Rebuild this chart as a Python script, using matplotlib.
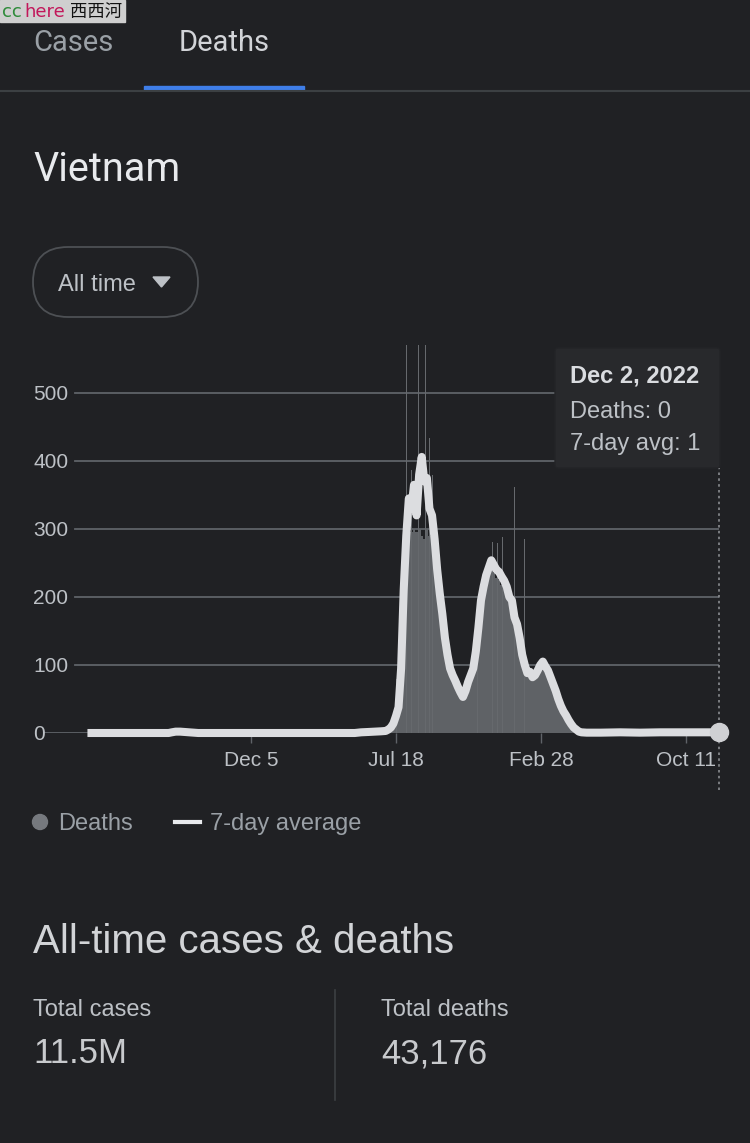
import numpy as np
import pandas as pd
import matplotlib
matplotlib.use('Agg')
import matplotlib.pyplot as plt
import matplotlib.dates as mdates
from matplotlib.patches import FancyBboxPatch, Rectangle, Polygon, Circle

# ---- data ----
# wave period, one value every 4 days from 2021-07-02
wave_start = '2021-07-02'
wave_avg = [3, 5, 8, 14, 25, 38, 95, 210, 290, 345,
            330, 365, 320, 380, 406, 370, 375, 330, 320, 285,
            240, 205, 175, 140, 115, 95, 85, 77, 68, 60,
            53, 62, 75, 85, 95, 120, 155, 195, 215, 232,
            243, 254, 247, 240, 237, 230, 224, 215, 200, 195,
            170, 160, 140, 115, 100, 88, 90, 82, 85, 92,
            100, 105, 98, 92, 82, 72, 62, 50, 40, 32,
            26, 19, 13, 8, 5, 2, 1]
wave_deaths = [3, 5, 8, 12, 20, 30, 70, 190, 270, 295,
               295, 300, 295, 300, 290, 285, 300, 290, 280, 260,
               225, 190, 160, 130, 105, 88, 80, 72, 63, 55,
               50, 58, 70, 80, 90, 110, 145, 180, 205, 222,
               232, 240, 236, 228, 225, 218, 212, 205, 192, 180,
               160, 150, 128, 105, 92, 82, 84, 78, 80, 86,
               94, 98, 92, 86, 76, 66, 56, 45, 36, 28,
               22, 16, 11, 7, 4, 2, 1]

# single days with reported backlogs
spike_dates = ['2021-07-19', '2021-07-29', '2021-08-03', '2021-08-11', '2021-08-22',
               '2021-09-02', '2021-09-08', '2021-09-13', '2021-11-22', '2021-12-15',
               '2021-12-23', '2021-12-31', '2022-01-11', '2022-01-18', '2022-02-03']
spike_deaths = [80, 391, 760, 387, 810, 780, 434, 380, 188, 281, 279, 288, 254, 362, 285]

# quiet periods of the 7-day average
early_dates = ['2020-03-26', '2020-07-30', '2020-08-04', '2020-08-10', '2020-08-17',
               '2020-08-24', '2020-08-31', '2020-09-07', '2020-09-14', '2021-05-15',
               '2021-05-25', '2021-06-05', '2021-06-15', '2021-06-25']
early_avg = [0, 0, 1, 2, 2, 1.5, 1, 0.5, 0, 0, 1, 1.5, 2, 2.5]
late_dates = ['2022-05-10', '2022-06-01', '2022-07-01', '2022-08-01',
              '2022-09-01', '2022-10-01', '2022-11-01', '2022-12-02']
late_avg = [0.5, 0.5, 1, 0.5, 1, 1, 1, 1]

tick_dates = ['2020-12-05', '2021-07-18', '2022-02-28', '2022-10-11']
tick_labels = ['Dec 5', 'Jul 18', 'Feb 28', 'Oct 11']
y_ticks = [0, 100, 200, 300, 400, 500]

BG = '#202124'
GRID = '#5f6368'
LINE = '#dcdde0'
AREA = '#5f6266'
W, H = 750, 1143

wave_dates = pd.date_range(wave_start, periods=len(wave_avg), freq='4D')
line_dates = pd.to_datetime(early_dates + list(wave_dates.strftime('%Y-%m-%d')) + late_dates)
line_vals = early_avg + wave_avg + late_avg

fig = plt.figure(figsize=(W / 100, H / 100), dpi=100, facecolor=BG)

# ---- chart ----
ax = fig.add_axes([43 / W, (H - 733) / H, 676.3 / W, 387.6 / H])
ax.set_facecolor('none')
for s in ax.spines.values():
    s.set_visible(False)

for v in y_ticks:
    ax.axhline(v, xmin=0 if v == 0 else 0.047, xmax=1, color=GRID, lw=1.3, zorder=1)

ax.bar(mdates.date2num(wave_dates), wave_deaths, width=4.2, color=AREA,
       linewidth=0, align='center', antialiased=False, zorder=2)
ax.bar(mdates.date2num(pd.to_datetime(spike_dates)), spike_deaths, width=1.3,
       color='#66696d', linewidth=0, zorder=2)
ax.plot(mdates.date2num(line_dates), line_vals, color=LINE, lw=5.8,
        solid_joinstyle='round', solid_capstyle='butt', zorder=3, clip_on=False)

end = mdates.date2num(pd.Timestamp(late_dates[-1]))
ax.plot([end], [late_avg[-1]], 'o', ms=13, color='#cfd0d3', zorder=4, clip_on=False)
ax.axvline(end, ymin=-0.147, ymax=0.684, color='#8a8d91', lw=1.2,
           ls=(0, (1.5, 2)), clip_on=False, zorder=1)

ax.set_xlim(mdates.date2num(pd.Timestamp('2020-01-17')), end)
ax.set_ylim(0, 570)

ax.set_xticks(mdates.date2num(pd.to_datetime(tick_dates)))
ax.set_xticklabels(tick_labels)
ax.tick_params(axis='x', length=7, width=1, color=GRID, pad=6,
               labelsize=15, labelcolor='#bdc1c6')
ax.set_yticks(y_ticks)
ax.set_yticklabels([str(v) for v in y_ticks])
ax.tick_params(axis='y', length=0, pad=7.2, labelsize=15, labelcolor='#bdc1c6')
for lbl in ax.get_yticklabels() + ax.get_xticklabels():
    lbl.set_family('Liberation Sans')
for lbl in ax.get_yticklabels():
    lbl.set_ha('left')

# ---- page furniture, drawn in pixel space ----
ov = fig.add_axes([0, 0, 1, 1], zorder=5)
ov.set_xlim(0, W)
ov.set_ylim(H, 0)
ov.axis('off')

# watermark
ov.add_patch(Rectangle((0, 0), 125, 22, color='#cfcfcf'))
ov.text(2, 17, 'cc', color='#2e8b3a', fontsize=13, family='DejaVu Sans')
ov.text(24, 17, 'here', color='#c2185b', fontsize=13, family='DejaVu Sans')
ov.text(70, 17, '西西河', color='#111111', fontsize=12.5, family=['Noto Sans CJK SC', 'DejaVu Sans'])

# tabs
ov.text(33, 51, 'Cases', color='#9aa0a6', fontsize=21, family='Roboto')
ov.text(179, 51, 'Deaths', color='#d2d4d8', fontsize=21, family='Roboto')
ov.plot([0, W], [91, 91], color='#3c4043', lw=1.5)
ov.add_patch(Rectangle((144, 86), 160, 4, color='#3f7ee8'))

ov.text(33, 181, 'Vietnam', color='#e8eaed', fontsize=28.5, family='Roboto')

# dropdown
ov.add_patch(FancyBboxPatch((33, 247), 165, 70, boxstyle='round,pad=0,rounding_size=35',
                            fc='none', ec='#4d5054', lw=1.3))
ov.text(58, 291, 'All time', color='#bdc1c6', fontsize=17, family='Liberation Sans')
ov.add_patch(Polygon([(153, 277), (170, 277), (161.5, 287)], color='#bdc1c6'))

# tooltip
ov.add_patch(FancyBboxPatch((555, 348), 165, 120, boxstyle='round,pad=0,rounding_size=3',
                            fc='#28292c', ec='#232427', lw=1))
ov.text(570, 383, 'Dec 2, 2022', color='#dadce0', fontsize=17, weight='bold',
        family='Liberation Sans')
ov.text(570, 418, 'Deaths: 0', color='#bdc1c6', fontsize=17, family='Liberation Sans')
ov.text(570, 450, '7-day avg: 1', color='#bdc1c6', fontsize=17, family='Liberation Sans')

# legend
ov.add_patch(Circle((40, 822), 7.5, color='#76797e'))
ov.text(58, 830, 'Deaths', color='#9aa0a6', fontsize=17, family='Liberation Sans')
ov.plot([175, 200], [822, 822], color='#e8eaed', lw=3)
ov.text(210, 830, '7-day average', color='#9aa0a6', fontsize=17, family='Liberation Sans')

# totals
ov.text(33, 953, 'All-time cases & deaths', color='#d2d4d7', fontsize=29,
        family='Liberation Sans')
ov.text(33, 1016, 'Total cases', color='#bdc1c6', fontsize=17, family='Liberation Sans')
ov.text(33, 1063, '11.5M', color='#c8cacd', fontsize=25, family='Liberation Sans')
ov.text(381, 1016, 'Total deaths', color='#bdc1c6', fontsize=17, family='Liberation Sans')
ov.text(381, 1063, '43,176', color='#c8cacd', fontsize=25, family='Liberation Sans')
ov.plot([335, 335], [990, 1100], color='#3c4043', lw=1.2)

fig.savefig('out.png', dpi=100, facecolor=BG)
